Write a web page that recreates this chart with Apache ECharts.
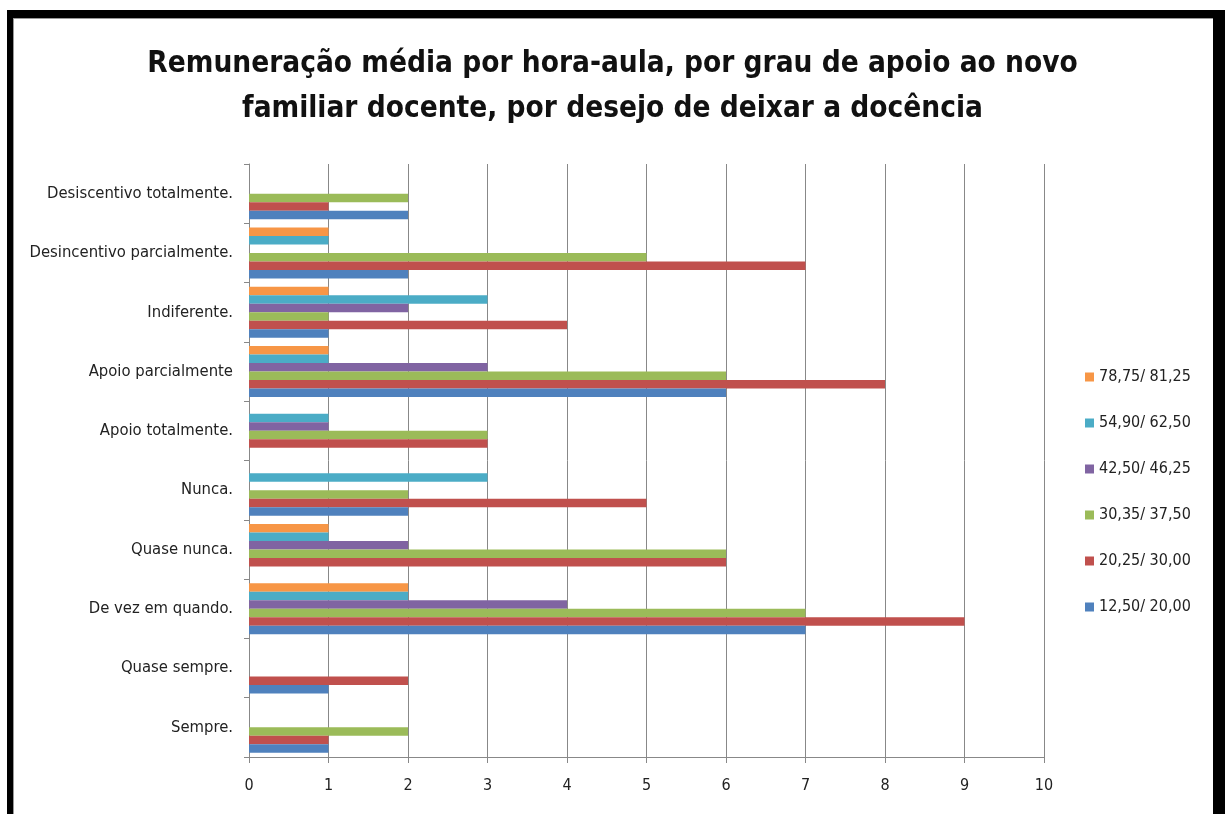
<!DOCTYPE html>
<html>
<head>
<meta charset="utf-8">
<script src="https://cdn.jsdelivr.net/npm/echarts@6/dist/echarts.min.js"></script>
<style>
  html, body { margin: 0; padding: 0; background: #fff; }
  #chart { width: 1225px; height: 814px; }
  #frame {
    position: absolute; left: 7px; top: 10px; width: 1200px; height: 820px;
    border-top: 8px solid #000; border-left: 6px solid #000; border-right: 12px solid #000;
    box-shadow: inset 1px 1px 0 #999;
    pointer-events: none;
  }
</style>
</head>
<body>
<div id="chart"></div>
<div id="frame"></div>
<script>
const categories = ['Sempre.', 'Quase sempre.', 'De vez em quando.', 'Quase nunca.', 'Nunca.',
  'Apoio totalmente.', 'Apoio parcialmente', 'Indiferente.', 'Desincentivo parcialmente.', 'Desiscentivo totalmente.']
const xTicks = [0, 1, 2, 3, 4, 5, 6, 7, 8, 9, 10]

// one array per series, values follow categories (bottom to top)
const s1250 = [1, 1, 7, 0, 2, 0, 6, 1, 2, 2]
const s2025 = [1, 2, 9, 6, 5, 3, 8, 4, 7, 1]
const s3035 = [2, 0, 7, 6, 2, 3, 6, 1, 5, 2]
const s4250 = [0, 0, 4, 2, 0, 1, 3, 2, 0, 0]
const s5490 = [0, 0, 2, 1, 3, 1, 1, 3, 1, 0]
const s7875 = [0, 0, 2, 1, 0, 0, 1, 1, 1, 0]

const seriesNames = ['78,75/ 81,25', '54,90/ 62,50', '42,50/ 46,25', '30,35/ 37,50', '20,25/ 30,00', '12,50/ 20,00']
const seriesData = [s7875, s5490, s4250, s3035, s2025, s1250]
const colors = ['#F79646', '#4BACC6', '#8064A2', '#9BBB59', '#C0504D', '#4F81BD']

const font = '"DejaVu Sans Condensed", "Noto Sans", sans-serif'

const chart = echarts.init(document.getElementById('chart'))
const option = {
  backgroundColor: '#fff',
  color: colors,
  title: {
    text: 'Remuneração média por hora-aula, por grau de apoio ao novo\nfamiliar docente, por desejo de deixar a docência',
    left: 'center',
    top: 37,
    textStyle: {
      fontFamily: font,
      fontWeight: 'bold',
      fontSize: 29.5,
      lineHeight: 45,
      color: '#111',
    },
  },
  legend: {
    orient: 'vertical',
    left: 1080,
    top: 364,
    itemWidth: 9,
    itemHeight: 9,
    itemGap: 30,
    icon: 'rect',
    data: seriesNames,
    textStyle: {
      fontFamily: font,
      fontSize: 16,
      lineHeight: 16,
      color: '#222',
    },
  },
  grid: {
    left: 249,
    right: 181,
    top: 164,
    bottom: 57,
  },
  xAxis: {
    type: 'value',
    min: 0,
    max: 10,
    interval: 1,
    axisLine: { show: true, lineStyle: { color: '#888' } },
    axisTick: { show: true, length: 6, lineStyle: { color: '#888' } },
    axisLabel: {
      margin: 21,
      fontFamily: font,
      fontSize: 16,
      color: '#222',
      formatter: (v) => xTicks.includes(v) ? String(v) : '',
    },
    splitLine: { show: true, lineStyle: { color: '#888', width: 1 } },
  },
  yAxis: {
    type: 'category',
    data: categories,
    axisLine: { show: true, lineStyle: { color: '#888' } },
    axisTick: { show: true, length: 5, lineStyle: { color: '#888' } },
    axisLabel: {
      margin: 16,
      fontFamily: font,
      fontSize: 16.5,
      color: '#222',
    },
  },
  series: seriesNames.map((name, i) => {
    return {
      name: name,
      type: 'bar',
      data: seriesData[i],
      barGap: '0%',
      barCategoryGap: '14%',
      itemStyle: { color: colors[i] },
    }
  }),
}
chart.setOption(option)
</script>
</body>
</html>
